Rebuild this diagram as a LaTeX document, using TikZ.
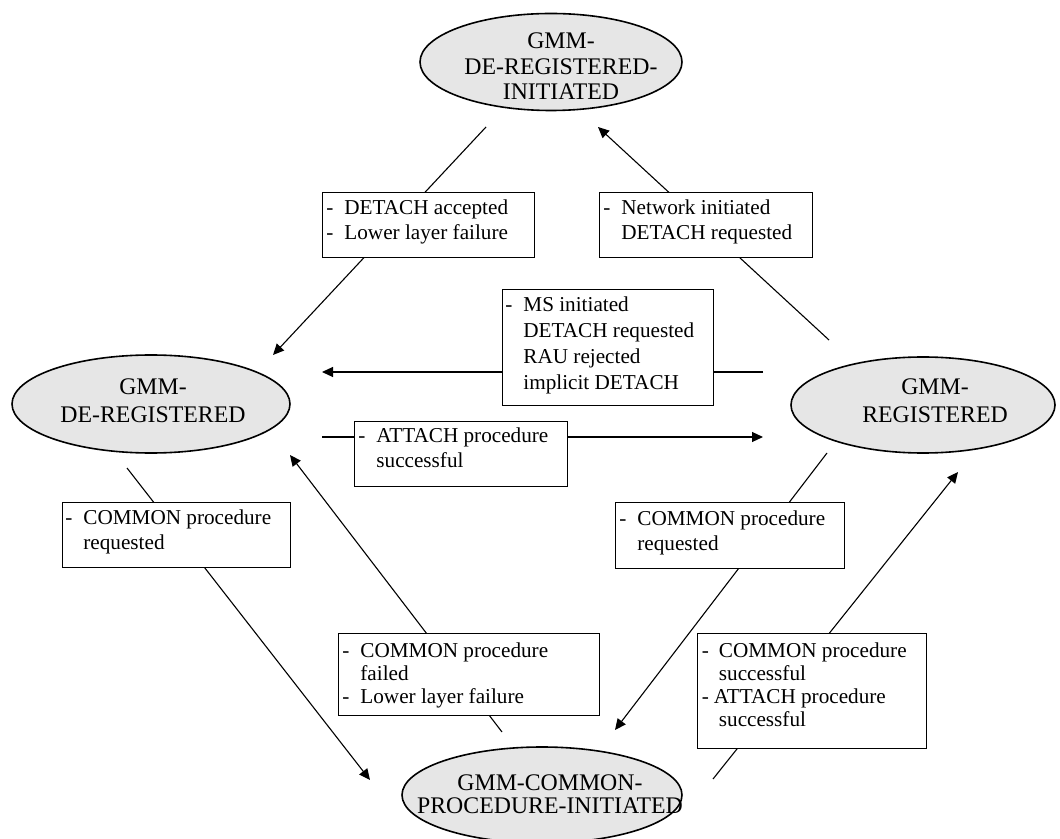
\documentclass[tikz,border=0pt]{standalone}
\usepackage{fontspec}
\setmainfont{Liberation Serif}
\usetikzlibrary{shapes.geometric,arrows.meta}
\definecolor{stategray}{HTML}{E6E6E6}
\newcommand{\lfont}[1]{\fontsize{10.6}{#1}\selectfont}
\newcommand{\efont}[1]{\fontsize{11.9}{#1}\selectfont}
\newcommand{\dsh}{\makebox[9pt][l]{-}}
\newcommand{\ind}{\hspace*{9pt}}
\tikzset{
  state/.style={ellipse, draw, line width=0.8pt, fill=stategray, inner sep=0pt},
  lbox/.style={rectangle, draw, line width=0.6pt, fill=white, inner sep=0pt, anchor=north west},
  lbl/.style={anchor=base west, inner sep=0pt},
  etext/.style={anchor=base, inner sep=0pt},
  conn/.style={line width=0.55pt},
  arr/.style={conn, -{Triangle[length=5.5pt,width=5pt]}}
}
\begin{document}
\begin{tikzpicture}[x=0.5pt,y=-0.5pt]
\useasboundingbox (0,0) rectangle (1060,839);
\clip (0,0) rectangle (1060,839);
% states
\node[state, minimum width=131pt, minimum height=48.5pt] (top) at (551,62) {};
\node[state, minimum width=139pt, minimum height=49pt] (left) at (151,404) {};
\node[state, minimum width=132pt, minimum height=48pt] (right) at (923,405) {};
\node[state, minimum width=140pt, minimum height=48pt] (bot) at (542,795) {};
\node[etext] (topT) at (561,49) {\parbox[t]{200pt}{\centering\efont{12.75}GMM-\\DE-REGISTERED-\\INITIATED}};
\node[etext] (leftT) at (153,395) {\parbox[t]{200pt}{\centering\efont{13.5}GMM-\\DE-REGISTERED}};
\node[etext] (rightT) at (935,395) {\parbox[t]{200pt}{\centering\efont{13.5}GMM-\\REGISTERED}};
\node[etext] (botT) at (550,790) {\parbox[t]{200pt}{\centering\efont{11.5}GMM-COMMON-\\PROCEDURE-INITIATED}};
% connector end points
\coordinate (p1a) at (486,127); \coordinate (p1b) at (273,355);
\coordinate (p2a) at (829,340); \coordinate (p2b) at (598,127);
\coordinate (p3a) at (763,372); \coordinate (p3b) at (322,372);
\coordinate (p4a) at (322,437); \coordinate (p4b) at (763,437);
\coordinate (p5a) at (127,468); \coordinate (p5b) at (370,780);
\coordinate (p6a) at (502,732); \coordinate (p6b) at (290,455);
\coordinate (p7a) at (827,453); \coordinate (p7b) at (615,730);
\coordinate (p8a) at (713,779); \coordinate (p8b) at (958,472);
\draw[arr] (p1a) -- (p1b);
\draw[arr] (p2a) -- (p2b);
\draw[arr] (p3a) -- (p3b);
\draw[arr] (p4a) -- (p4b);
\draw[arr] (p5a) -- (p5b);
\draw[arr] (p6a) -- (p6b);
\draw[arr] (p7a) -- (p7b);
\draw[arr] (p8a) -- (p8b);
% label boxes
\node[lbox, minimum width=106pt, minimum height=32.5pt] (b1) at (322,192) {};
\node[lbl] (t1) at (326,215) {\parbox[t]{150pt}{\raggedright\lfont{12.5}\dsh DETACH accepted\\\dsh Lower layer failure}};
\node[lbox, minimum width=106.5pt, minimum height=32.5pt] (b2) at (599,192) {};
\node[lbl] (t2) at (603,215) {\parbox[t]{150pt}{\raggedright\lfont{12.5}\dsh Network initiated\\\ind DETACH requested}};
\node[lbox, minimum width=105.5pt, minimum height=58pt] (b3) at (502,289) {};
\node[lbl] (t3) at (505,312) {\parbox[t]{150pt}{\raggedright\lfont{12.85}\dsh MS initiated\\\ind DETACH requested\\\ind RAU rejected\\\ind implicit DETACH}};
\node[lbox, minimum width=106.5pt, minimum height=32.5pt] (b4) at (354,421) {};
\node[lbl] (t4) at (358,443) {\parbox[t]{150pt}{\raggedright\lfont{12.5}\dsh ATTACH procedure\\\ind successful}};
\node[lbox, minimum width=114pt, minimum height=32.5pt] (b5) at (62,502) {};
\node[lbl] (t5) at (65,524) {\parbox[t]{150pt}{\raggedright\lfont{12.5}\dsh COMMON procedure\\\ind requested}};
\node[lbox, minimum width=114.5pt, minimum height=33pt] (b6) at (615,502) {};
\node[lbl] (t6) at (619,525) {\parbox[t]{150pt}{\raggedright\lfont{12.5}\dsh COMMON procedure\\\ind requested}};
\node[lbox, minimum width=130.5pt, minimum height=41pt] (b7) at (338,633) {};
\node[lbl] (t7) at (342,657) {\parbox[t]{150pt}{\raggedright\lfont{11.65}\dsh COMMON procedure\\\ind failed\\\dsh Lower layer failure}};
\node[lbox, minimum width=114.5pt, minimum height=57.5pt] (b8) at (697,633) {};
\node[lbl] (t8) at (701.5,657) {\parbox[t]{150pt}{\raggedright\lfont{11.65}\makebox[8.5pt][l]{-}COMMON procedure\\\hspace*{8.5pt}successful\\\makebox[6pt][l]{-}ATTACH procedure\\\hspace*{8.5pt}successful}};
\end{tikzpicture}
\end{document}
